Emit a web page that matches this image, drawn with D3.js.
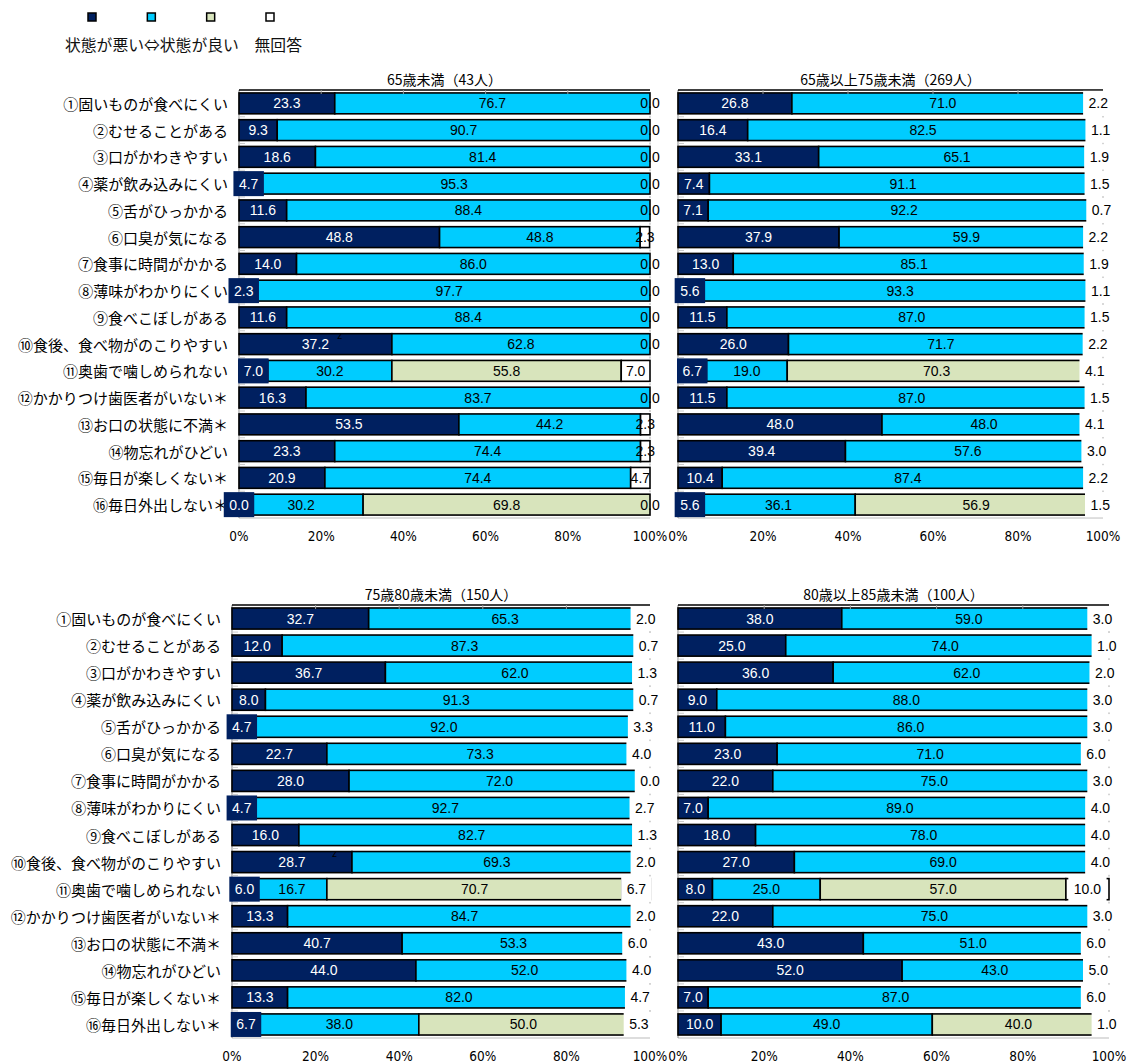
<!DOCTYPE html>
<html>
<head>
<meta charset="utf-8">
<script src="https://cdn.jsdelivr.net/npm/d3@7"></script>
<style>
  body { margin: 0; background: #fff; }
  svg { display: block; }
</style>
</head>
<body>
<svg id="chart" width="1128" height="1063"></svg>
<script>
// ---- data -------------------------------------------------------------
const categories = [
  "①固いものが食べにくい", "②むせることがある", "③口がかわきやすい",
  "④薬が飲み込みにくい", "⑤舌がひっかかる", "⑥口臭が気になる",
  "⑦食事に時間がかかる", "⑧薄味がわかりにくい", "⑨食べこぼしがある",
  "⑩食後、食べ物がのこりやすい", "⑪奥歯で噛しめられない",
  "⑫かかりつけ歯医者がいない＊", "⑬お口の状態に不満＊", "⑭物忘れがひどい",
  "⑮毎日が楽しくない＊", "⑯毎日外出しない＊"
];
const panelTitles = [
  "65歳未満（43人）", "65歳以上75歳未満（269人）",
  "75歳80歳未満（150人）", "80歳以上85歳未満（100人）"
];
const tickValues = [0, 20, 40, 60, 80, 100];
const tickLabels = ["0%", "20%", "40%", "60%", "80%", "100%"];
const legendText = "状態が悪い⇔状態が良い　無回答";

// 65歳未満
const under65Bad     = [23.3, 9.3, 18.6, 4.7, 11.6, 48.8, 14.0, 2.3, 11.6, 37.2, 7.0, 16.3, 53.5, 23.3, 20.9, 0.0];
const under65Good    = [76.7, 90.7, 81.4, 95.3, 88.4, 48.8, 86.0, 97.7, 88.4, 62.8, 30.2, 83.7, 44.2, 74.4, 74.4, 30.2];
const under65Neutral = [0, 0, 0, 0, 0, 0, 0, 0, 0, 0, 55.8, 0, 0, 0, 0, 69.8];
const under65NA      = [0.0, 0.0, 0.0, 0.0, 0.0, 2.3, 0.0, 0.0, 0.0, 0.0, 7.0, 0.0, 2.3, 2.3, 4.7, 0.0];

// 65歳以上75歳未満
const age65to74Bad     = [26.8, 16.4, 33.1, 7.4, 7.1, 37.9, 13.0, 5.6, 11.5, 26.0, 6.7, 11.5, 48.0, 39.4, 10.4, 5.6];
const age65to74Good    = [71.0, 82.5, 65.1, 91.1, 92.2, 59.9, 85.1, 93.3, 87.0, 71.7, 19.0, 87.0, 48.0, 57.6, 87.4, 36.1];
const age65to74Neutral = [0, 0, 0, 0, 0, 0, 0, 0, 0, 0, 70.3, 0, 0, 0, 0, 56.9];
const age65to74NA      = [2.2, 1.1, 1.9, 1.5, 0.7, 2.2, 1.9, 1.1, 1.5, 2.2, 4.1, 1.5, 4.1, 3.0, 2.2, 1.5];

// 75歳80歳未満
const age75to79Bad     = [32.7, 12.0, 36.7, 8.0, 4.7, 22.7, 28.0, 4.7, 16.0, 28.7, 6.0, 13.3, 40.7, 44.0, 13.3, 6.7];
const age75to79Good    = [65.3, 87.3, 62.0, 91.3, 92.0, 73.3, 72.0, 92.7, 82.7, 69.3, 16.7, 84.7, 53.3, 52.0, 82.0, 38.0];
const age75to79Neutral = [0, 0, 0, 0, 0, 0, 0, 0, 0, 0, 70.7, 0, 0, 0, 0, 50.0];
const age75to79NA      = [2.0, 0.7, 1.3, 0.7, 3.3, 4.0, 0.0, 2.7, 1.3, 2.0, 6.7, 2.0, 6.0, 4.0, 4.7, 5.3];

// 80歳以上85歳未満
const age80to84Bad     = [38.0, 25.0, 36.0, 9.0, 11.0, 23.0, 22.0, 7.0, 18.0, 27.0, 8.0, 22.0, 43.0, 52.0, 7.0, 10.0];
const age80to84Good    = [59.0, 74.0, 62.0, 88.0, 86.0, 71.0, 75.0, 89.0, 78.0, 69.0, 25.0, 75.0, 51.0, 43.0, 87.0, 49.0];
const age80to84Neutral = [0, 0, 0, 0, 0, 0, 0, 0, 0, 0, 57.0, 0, 0, 0, 0, 40.0];
const age80to84NA      = [3.0, 1.0, 2.0, 3.0, 3.0, 6.0, 3.0, 4.0, 4.0, 4.0, 10.0, 3.0, 6.0, 5.0, 6.0, 1.0];

const panelSeries = [
  [under65Bad, under65Good, under65Neutral, under65NA],
  [age65to74Bad, age65to74Good, age65to74Neutral, age65to74NA],
  [age75to79Bad, age75to79Good, age75to79Neutral, age75to79NA],
  [age80to84Bad, age80to84Good, age80to84Neutral, age80to84NA]
];

// ---- styling / layout ---------------------------------------------------
const seriesColors = ["#002060", "#00CCFF", "#D8E4BC", "#FFFFFF"];
const textColors   = ["#FFFFFF", "#000000", "#000000", "#000000"];

const panels = [
  { x0: 239, x1: 650,  y0: 90,  y1: 518,  showCats: true,  naBox: false, mark: true },
  { x0: 678, x1: 1103, y0: 90,  y1: 518,  showCats: false, naBox: true,  mark: false },
  { x0: 232, x1: 650,  y0: 605, y1: 1038, showCats: true,  naBox: true,  mark: true },
  { x0: 678, x1: 1109, y0: 605, y1: 1038, showCats: false, naBox: true,  mark: false }
];

const JP = "'Noto Sans CJK JP', 'Noto Sans', sans-serif";
const NUM = "'Liberation Sans', Arial, sans-serif";
const NARROW = "'Liberation Sans Narrow', 'DejaVu Sans Condensed', 'Liberation Sans', sans-serif";

const valueFontSize = 14;
const measureCtx = document.createElement("canvas").getContext("2d");
measureCtx.font = `${valueFontSize}px 'Liberation Sans'`;
const textWidth = s => measureCtx.measureText(s).width;

const svg = d3.select("#chart");

// ---- legend -------------------------------------------------------------
const legendX = d3.scalePoint().domain(d3.range(4)).range([92, 270]);
svg.append("g").selectAll("rect")
  .data(seriesColors)
  .join("rect")
  .attr("x", (d, i) => legendX(i) - 4)
  .attr("y", 13)
  .attr("width", 8)
  .attr("height", 8)
  .attr("fill", d => d)
  .attr("stroke", "#000")
  .attr("stroke-width", 1.5);

svg.append("text")
  .attr("x", 65)
  .attr("y", 44)
  .attr("dominant-baseline", "central")
  .attr("font-family", JP)
  .attr("font-size", 15.8)
  .attr("fill", "#111")
  .text(legendText);

// ---- panels -------------------------------------------------------------
panels.forEach((p, pi) => {
  const series = panelSeries[pi];
  const g = svg.append("g");

  const x = d3.scaleLinear().domain([0, 100]).range([p.x0, p.x1]);
  const y = d3.scaleBand().domain(categories).range([p.y0, p.y1])
    .paddingInner(0.22).paddingOuter(0.11);

  // stacked rows
  const rows = categories.map((c, i) => {
    let acc = 0;
    return series.map((s, k) => {
      const seg = { cat: c, k, v: s[i], start: acc, end: acc + s[i] };
      acc += s[i];
      return seg;
    });
  });
  const segments = rows.flat();

  // title
  g.append("text")
    .attr("x", (p.x0 + p.x1) / 2)
    .attr("y", p.y0 - 11)
    .attr("text-anchor", "middle")
    .attr("dominant-baseline", "central")
    .attr("font-family", JP)
    .attr("font-size", 14)
    .attr("fill", "#000")
    .text(panelTitles[pi]);

  // frame: bottom and left in grey
  g.append("line")
    .attr("x1", p.x0).attr("x2", p.x1)
    .attr("y1", p.y1).attr("y2", p.y1)
    .attr("stroke", "#bbb").attr("stroke-width", 1);
  g.append("line")
    .attr("x1", p.x0).attr("x2", p.x0)
    .attr("y1", p.y0).attr("y2", p.y1)
    .attr("stroke", "#888").attr("stroke-width", 1);

  // category tick marks between rows
  const bounds = d3.range(1, categories.length).map(i => p.y0 + i * y.step());
  g.append("g").selectAll("line")
    .data(bounds)
    .join("line")
    .attr("x1", p.x0).attr("x2", p.x0 + 6)
    .attr("y1", d => d).attr("y2", d => d)
    .attr("stroke", "#ccc").attr("stroke-width", 1);
  g.append("g").selectAll("rect")
    .data(bounds)
    .join("rect")
    .attr("x", p.x1 - 0.5).attr("y", d => d - 1)
    .attr("width", 1).attr("height", 2)
    .attr("fill", "#aaa");

  // bars
  g.append("g").selectAll("rect")
    .data(segments.filter(d => d.v > 0))
    .join("rect")
    .attr("x", d => x(d.start))
    .attr("y", d => y(d.cat))
    .attr("width", d => x(d.end) - x(d.start))
    .attr("height", y.bandwidth())
    .attr("fill", d => seriesColors[d.k])
    .attr("stroke", "#000")
    .attr("stroke-width", 1.6);

  // top axis with short ticks
  g.append("line")
    .attr("x1", p.x0).attr("x2", p.x1)
    .attr("y1", p.y0).attr("y2", p.y0)
    .attr("stroke", "#000").attr("stroke-width", 1.5);
  g.append("g").selectAll("line")
    .data(tickValues.slice(1, -1))
    .join("line")
    .attr("x1", d => x(d)).attr("x2", d => x(d))
    .attr("y1", p.y0).attr("y2", p.y0 + 4)
    .attr("stroke", "#999").attr("stroke-width", 1);

  // bottom tick labels
  g.append("g").selectAll("text")
    .data(tickValues)
    .join("text")
    .attr("x", d => x(d))
    .attr("y", p.y1 + 18)
    .attr("text-anchor", "middle")
    .attr("dominant-baseline", "central")
    .attr("font-family", NARROW)
    .attr("font-size", 13.5)
    .attr("fill", "#000")
    .text((d, i) => tickLabels[i]);

  // category labels
  if (p.showCats) {
    g.append("g").selectAll("text")
      .data(categories)
      .join("text")
      .attr("x", p.x0 - 11)
      .attr("y", d => y(d) + y.bandwidth() / 2)
      .attr("text-anchor", "end")
      .attr("dominant-baseline", "central")
      .attr("font-family", JP)
      .attr("font-size", 15)
      .attr("fill", "#000")
      .text(d => d);
  }

  // value labels (neutral series only where present)
  const labelled = segments.filter(d => d.k !== 2 || d.v > 0);
  const fmt = d3.format(".1f");
  const boxH = 25;

  // label backgrounds: navy when the label spills out of a narrow bar,
  // white behind every no-answer label
  const boxes = labelled.filter(d => {
    const w = textWidth(fmt(d.v));
    if (d.k === 0) return (x(d.end) - x(d.start)) < w + 10;
    if (d.k === 3) return p.naBox;
    return false;
  });
  g.append("g").selectAll("rect")
    .data(boxes)
    .join("rect")
    .attr("x", d => x((d.start + d.end) / 2) - (textWidth(fmt(d.v)) + 11) / 2)
    .attr("y", d => y(d.cat) + y.bandwidth() / 2 - boxH / 2)
    .attr("width", d => textWidth(fmt(d.v)) + 11)
    .attr("height", boxH)
    .attr("fill", d => seriesColors[d.k]);

  g.append("g").selectAll("text")
    .data(labelled)
    .join("text")
    .attr("x", d => x((d.start + d.end) / 2))
    .attr("y", d => y(d.cat) + y.bandwidth() / 2)
    .attr("text-anchor", "middle")
    .attr("dominant-baseline", "central")
    .attr("font-family", NUM)
    .attr("font-size", valueFontSize)
    .attr("fill", d => textColors[d.k])
    .text(d => fmt(d.v));

  // small stray mark above row ⑩ in the left-hand panels
  if (p.mark) {
    g.append("text")
      .attr("x", x(24.5))
      .attr("y", y(categories[9]) + 2)
      .attr("text-anchor", "middle")
      .attr("dominant-baseline", "central")
      .attr("font-family", NUM)
      .attr("font-size", 10)
      .attr("fill", "#000")
      .text("z");
  }
});
</script>
</body>
</html>
